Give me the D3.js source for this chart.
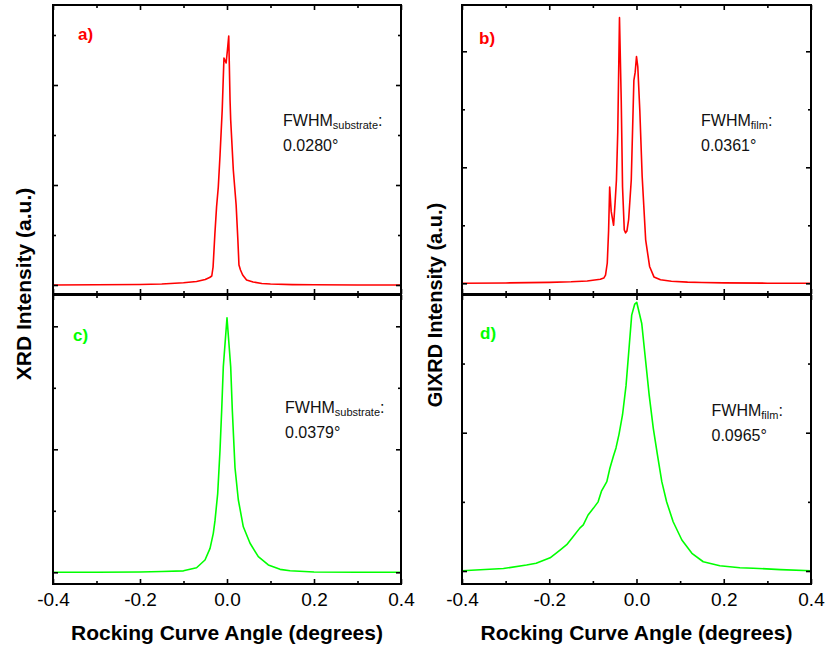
<!DOCTYPE html>
<html><head><meta charset="utf-8">
<script src="https://cdn.jsdelivr.net/npm/d3@7"></script>
<style>body{margin:0;background:#fff;} text{font-family:"Liberation Sans",Arial,sans-serif;}</style>
</head><body>
<svg id="c" width="825" height="647"></svg>
<script>
// ---------- data ----------
const xTicksMajor = [-0.4, -0.2, 0.0, 0.2, 0.4];
const xTicksMinor = [-0.3, -0.1, 0.1, 0.3];
const xTickLabels = ["-0.4", "-0.2", "0.0", "0.2", "0.4"];

const xa = [-0.4,-0.3,-0.2,-0.15,-0.1,-0.07,-0.05,-0.04,-0.035,-0.032,-0.028,-0.024,-0.02,-0.016,-0.011,-0.007,-0.004,-0.002,0.001,0.004,0.007,0.0085,0.0145,0.021,0.025,0.0275,0.031,0.036,0.045,0.06,0.08,0.1,0.15,0.2,0.3,0.4];
const ya = [0,0.002,0.005,0.01,0.022,0.035,0.055,0.075,0.09,0.18,0.5,0.78,0.98,1.3,1.75,2.27,2.24,2.22,2.35,2.49,1.85,1.65,1.15,0.8,0.45,0.2,0.15,0.1,0.05,0.03,0.015,0.01,0.004,0.002,0,0];

const xb = [-0.4,-0.3,-0.2,-0.15,-0.113,-0.083,-0.075,-0.071,-0.067,-0.064,-0.0615,-0.058,-0.0525,-0.049,-0.046,-0.043,-0.039,-0.035,-0.032,-0.028,-0.025,-0.022,-0.018,-0.012,-0.006,-0.003,0,0.003,0.0076,0.013,0.021,0.03,0.04,0.055,0.08,0.117,0.15,0.2,0.3,0.4];
const yb = [0,0.003,0.008,0.013,0.02,0.035,0.045,0.07,0.175,0.45,0.83,0.62,0.5,0.7,0.89,1.3,2.29,1.58,0.83,0.46,0.435,0.45,0.55,0.89,1.75,1.82,1.955,1.865,1.49,0.92,0.375,0.145,0.055,0.03,0.018,0.01,0.007,0.004,0.001,0];

const xc = [-0.4,-0.3,-0.2,-0.15,-0.1,-0.0926,-0.07,-0.0506,-0.039,-0.0315,-0.0276,-0.0214,-0.0161,-0.0122,-0.0085,0,0.0085,0.0122,0.0184,0.026,0.0375,0.053,0.072,0.095,0.122,0.145,0.2,0.3,0.4];
const yc = [0,0,0.002,0.006,0.012,0.019,0.037,0.1,0.195,0.317,0.42,0.64,0.99,1.32,1.67,2.07,1.67,1.32,0.85,0.59,0.37,0.236,0.127,0.06,0.024,0.013,0.003,0,0];

const xd = [-0.4,-0.305,-0.252,-0.23,-0.198,-0.176,-0.16,-0.145,-0.13,-0.122,-0.111,-0.099,-0.088,-0.08,-0.068,-0.061,-0.053,-0.047,-0.04,-0.032,-0.024,-0.0165,-0.011,-0.004,0.0005,0.012,0.0195,0.029,0.0385,0.048,0.058,0.069,0.084,0.104,0.127,0.153,0.191,0.237,0.268,0.33,0.4];
const yd = [0.002,0.018,0.043,0.056,0.095,0.15,0.19,0.25,0.31,0.333,0.405,0.453,0.5,0.58,0.646,0.743,0.83,0.89,0.99,1.13,1.34,1.634,1.85,1.93,1.943,1.79,1.562,1.273,1.032,0.839,0.646,0.501,0.356,0.224,0.128,0.067,0.038,0.024,0.02,0.01,0.002];

const panelLabels = ["a)", "b)", "c)", "d)"];
const fwhmSubs = ["substrate", "film", "substrate", "film"];
const fwhmValues = ["0.0280°", "0.0361°", "0.0379°", "0.0965°"];
const yTitles = ["XRD Intensity (a.u.)", "GIXRD Intensity (a.u.)"];
const xTitle = "Rocking Curve Angle (degrees)";

// ---------- layout ----------
const svg = d3.select("#c");
const RED = "#ff0000", GREEN = "#00ff00";
const cols = [[53, 401], [462, 811]];
const rows = [[294, 5], [584, 295]];

const panels = [
  {x: xa, y: ya, col: 0, row: 0, dom: [-0.09, 2.8], maj: [0,1,2], min: [0.5,1.5,2.5], color: RED,
   lab: [78, 40], fw: [283, 125.5, 150.5]},
  {x: xb, y: yb, col: 1, row: 0, dom: [-0.0922, 2.399], maj: [0,1,2], min: [0.5,1.5], color: RED,
   lab: [479, 43.5], fw: [701, 125.5, 150.5]},
  {x: xc, y: yc, col: 0, row: 1, dom: [-0.0951, 2.2545], maj: [0,1,2], min: [0.5,1.5], color: GREEN,
   lab: [73, 341], fw: [285, 412.5, 437.5]},
  {x: xd, y: yd, col: 1, row: 1, dom: [-0.094, 1.9957], maj: [0,1], min: [0.5,1.5], color: GREEN,
   lab: [480, 338.5], fw: [711.5, 416, 441]}
];

panels.forEach((p, i) => {
  const xs = d3.scaleLinear().domain([-0.4, 0.4]).range(cols[p.col]);
  const ys = d3.scaleLinear().domain(p.dom).range(rows[p.row]);
  const g = svg.append("g");
  const [x0, x1] = cols[p.col];
  const [yb0, yt0] = rows[p.row];

  // data line
  const pts = p.x.map((v, k) => [v, p.y[k]]);
  g.append("path").datum(pts)
    .attr("fill", "none").attr("stroke", p.color).attr("stroke-width", 1.6)
    .attr("stroke-linejoin", "round")
    .attr("d", d3.line().x(d => xs(d[0])).y(d => ys(d[1])));

  function ax(axisFn, scale, vals, size, tx, ty, labels) {
    const a = axisFn(scale).tickValues(vals).tickSizeInner(-size).tickSizeOuter(0)
      .tickPadding(9).tickFormat(labels ? ((d, k) => labels[k]) : "");
    const sel = g.append("g").attr("transform", `translate(${tx},${ty})`).call(a);
    sel.select(".domain").remove();
    sel.selectAll(".tick line").attr("stroke", "#000").attr("stroke-width", 1.6);
    sel.selectAll(".tick text").attr("font-size", 19).attr("fill", "#000")
      .attr("font-family", "Liberation Sans, Arial, sans-serif");
    return sel;
  }
  // x axes
  ax(d3.axisBottom, xs, xTicksMajor, 5, 0, yb0, p.row === 1 ? xTickLabels : null);
  ax(d3.axisBottom, xs, xTicksMinor, 3, 0, yb0, null);
  ax(d3.axisTop, xs, xTicksMajor, 5, 0, yt0, null);
  ax(d3.axisTop, xs, xTicksMinor, 3, 0, yt0, null);
  // y axes
  ax(d3.axisLeft, ys, p.maj, 5, x0, 0, null);
  ax(d3.axisLeft, ys, p.min, 3, x0, 0, null);
  ax(d3.axisRight, ys, p.maj, 5, x1, 0, null);
  ax(d3.axisRight, ys, p.min, 3, x1, 0, null);

  // frame
  g.append("rect").attr("x", x0).attr("y", yt0).attr("width", x1 - x0).attr("height", yb0 - yt0)
    .attr("fill", "none").attr("stroke", "#000").attr("stroke-width", 2);

  // panel label
  g.append("text").attr("x", p.lab[0]).attr("y", p.lab[1]).text(panelLabels[i])
    .attr("font-size", 17).attr("font-weight", "bold").attr("fill", p.color);

  // FWHM annotation
  const t = g.append("text").attr("x", p.fw[0]).attr("y", p.fw[1]).attr("font-size", 16).attr("fill", "#111");
  t.append("tspan").text("FWHM");
  t.append("tspan").attr("font-size", 11).attr("dy", 3).text(fwhmSubs[i]);
  t.append("tspan").attr("dy", -3).text(":");
  g.append("text").attr("x", p.fw[0]).attr("y", p.fw[2]).attr("font-size", 16).attr("fill", "#111")
    .text(fwhmValues[i]);
});

// axis titles
[227, 636.5].forEach(cx => {
  svg.append("text").attr("x", cx).attr("y", 640).attr("text-anchor", "middle")
    .attr("font-size", 21).attr("font-weight", "bold").text(xTitle);
});
svg.append("text").attr("transform", "translate(31,284) rotate(-90)").attr("text-anchor", "middle")
  .attr("font-size", 21).attr("font-weight", "bold").text(yTitles[0]);
svg.append("text").attr("transform", "translate(442,305) rotate(-90)").attr("text-anchor", "middle")
  .attr("font-size", 20).attr("font-weight", "bold").text(yTitles[1]);
</script>
</body></html>
